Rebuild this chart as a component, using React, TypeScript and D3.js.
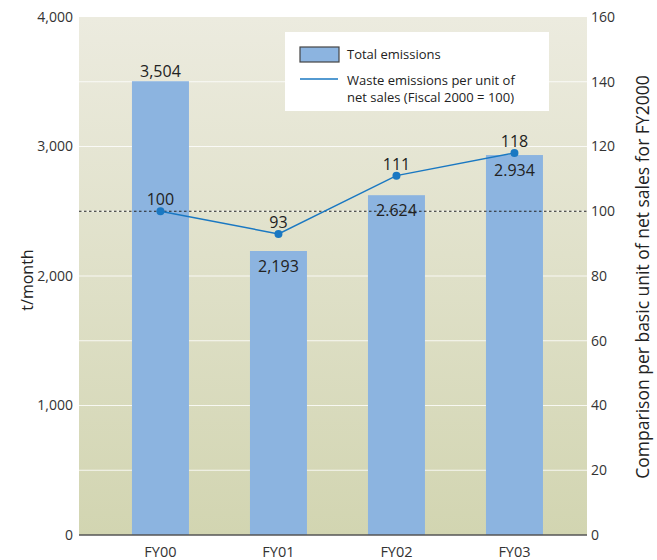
import React from "react";
import * as d3 from "d3";

const categories = ["FY00", "FY01", "FY02", "FY03"];
const totalEmissions = [3504, 2193, 2624, 2934];
const totalLabels = ["3,504", "2,193", "2.624", "2.934"];
const wasteIndex = [100, 93, 111, 118];
const leftTicks = [0, 1000, 2000, 3000, 4000];
const rightTicks = [0, 20, 40, 60, 80, 100, 120, 140, 160];
const gridValues = [500, 1000, 1500, 2000, 2500, 3000, 3500];

const W = 657, H = 560;
const L = 79, R = 587, T = 17, B = 535;
const FONT = "'Open Sans', 'Noto Sans', sans-serif";

export default function App() {
  const x = d3.scaleBand<string>().domain(categories).range([L, R])
    .paddingInner(0.517).paddingOuter(0.411).align(0.546);
  const yL = d3.scaleLinear().domain([0, 4000]).range([B, T]);
  const yR = d3.scaleLinear().domain([0, 160]).range([B, T]);
  const cx = (c: string) => (x(c) as number) + x.bandwidth() / 2;
  const line = d3.line<number>().x((_, i) => cx(categories[i])).y((d) => yR(d));

  return (
    <svg width={W} height={H} style={{ position: "absolute", left: 0, top: 0 }} fontFamily={FONT}>
      <defs>
        <linearGradient id="bg" x1="0" y1="0" x2="0" y2="1">
          <stop offset="0" stopColor="#ecebdf" />
          <stop offset="1" stopColor="#d2d5b1" />
        </linearGradient>
      </defs>
      <rect x={L} y={T} width={R - L} height={B - T} fill="url(#bg)" />
      {gridValues.map((v) => (
        <line key={v} x1={L} x2={R} y1={yL(v)} y2={yL(v)} stroke="#ffffff" strokeOpacity={0.8} strokeWidth={1.2} />
      ))}
      {categories.map((c, i) => (
        <rect key={c} x={x(c)} y={yL(totalEmissions[i])} width={x.bandwidth()}
          height={B - yL(totalEmissions[i])} fill="#8cb4e0" />
      ))}
      <line x1={L} x2={R} y1={yR(100)} y2={yR(100)} stroke="#222" strokeWidth={1} strokeDasharray="2.5,2.5" />
      <line x1={L} x2={R} y1={B} y2={B} stroke="#555" strokeWidth={1.5} />
      <path d={line(wasteIndex) || ""} fill="none" stroke="#1a78c2" strokeWidth={1.5} />
      {categories.map((c, i) => (
        <circle key={c} cx={cx(c)} cy={yR(wasteIndex[i])} r={4} fill="#1a78c2" />
      ))}
      {categories.map((c, i) => (
        <text key={c} x={cx(c)} y={yR(wasteIndex[i]) - 6} textAnchor="middle" fontSize={16} fill="#222">
          {wasteIndex[i]}
        </text>
      ))}
      {categories.map((c, i) => (
        <text key={c} x={cx(c)} y={i === 0 ? yL(totalEmissions[i]) - 4 : yL(totalEmissions[i]) + 21}
          textAnchor="middle" fontSize={16} fill="#222">
          {totalLabels[i]}
        </text>
      ))}
      {leftTicks.map((v) => (
        <text key={v} x={73} y={yL(v)} dy="0.35em" textAnchor="end" fontSize={14} fill="#333">
          {d3.format(",")(v)}
        </text>
      ))}
      {rightTicks.map((v) => (
        <text key={v} x={591} y={yR(v)} dy="0.35em" textAnchor="start" fontSize={14} fill="#333">
          {v}
        </text>
      ))}
      {categories.map((c) => (
        <text key={c} x={cx(c)} y={557} textAnchor="middle" fontSize={14.5} fill="#333">{c}</text>
      ))}
      <text transform="translate(33,280) rotate(-90)" textAnchor="middle" fontSize={16} fill="#222">t/month</text>
      <text transform="translate(649,277) rotate(-90)" textAnchor="middle" fontSize={17.5} fill="#222">
        Comparison per basic unit of net sales for FY2000
      </text>
      <g>
        <rect x={285} y={32} width={264} height={79} fill="#ffffff" />
        <rect x={300} y={47} width={39} height={15} fill="#8cb4e0" stroke="#444" strokeWidth={1.2} />
        <text x={347} y={59} fontSize={13} fill="#222">Total emissions</text>
        <line x1={300} x2={338} y1={79} y2={79} stroke="#1a78c2" strokeWidth={1.5} />
        <text x={347} y={85} fontSize={13} fill="#222">Waste emissions per unit of</text>
        <text x={347} y={102} fontSize={13} fill="#222">net sales (Fiscal 2000 = 100)</text>
      </g>
    </svg>
  );
}
